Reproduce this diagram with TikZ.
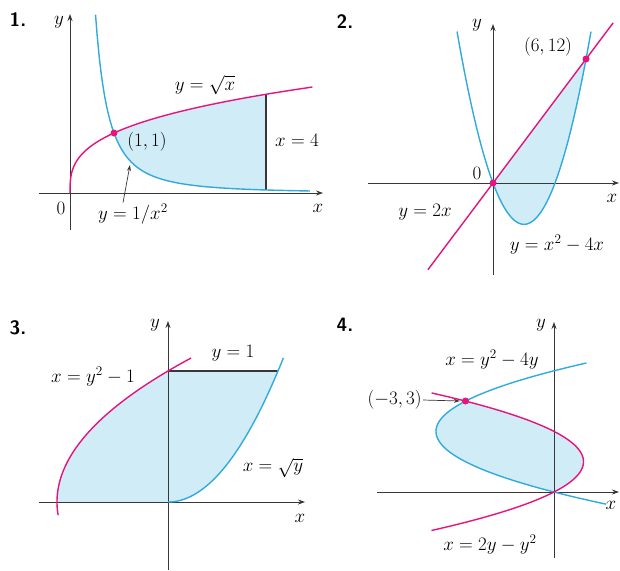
\documentclass[tikz,border=0pt]{standalone}
\usepackage{amsmath,amssymb}
\usetikzlibrary{arrows.meta}
\definecolor{curvepink}{RGB}{230,20,125}
\definecolor{curveblue}{RGB}{50,170,220}
\definecolor{regionblue}{RGB}{208,236,246}
\definecolor{axisgray}{RGB}{55,55,55}

\tikzset{
  axis/.style={draw=axisgray, line width=0.9pt, -{Stealth[length=7pt,width=5pt]}},
  pinkcurve/.style={draw=curvepink, line width=1.4pt},
  bluecurve/.style={draw=curveblue, line width=1.4pt},
  region/.style={fill=regionblue, draw=none},
  bound/.style={draw=axisgray, line width=1.1pt},
  dot/.style={circle, fill=curvepink, inner sep=0pt, minimum size=7pt},
  lbl/.style={font=\fontsize{17.28}{20}\selectfont, inner sep=1pt, scale=1.1, transform shape},
  num/.style={font=\fontsize{17.28}{20}\selectfont\sffamily\bfseries, inner sep=1pt, scale=1.12, transform shape},
  pointer/.style={draw=axisgray, line width=0.7pt, -{Stealth[length=6pt,width=4pt]}}
}

\begin{document}
\begin{tikzpicture}[x=1pt, y=-1pt]
  \useasboundingbox[fill=white] (0,0) rectangle (620,570);

  % 1. y = sqrt(x), y = 1/x^2, x = 4
  \fill[region] plot[domain=1:1.645, samples=40] ({70+44*\x^3},{193-60*\x})
    -- plot[domain=4.45:1, samples=60] ({70+44*\x},{193-60/(\x*\x)}) -- cycle;
  \draw[axis] (39,193) -- (323,193);
  \draw[axis] (70,230) -- (70,14);
  \draw[bound] (266,94) -- (266,190);
  \draw[bluecurve] plot[domain=0.58:5.45, samples=120] ({70+44*\x},{193-60/(\x*\x)});
  \draw[pinkcurve] plot[domain=0:1.767, samples=80] ({70+44*\x^3},{193-60*\x});
  \node[dot] (meet1) at (114,133) {};
  \node[num] (no1) at (18,20) {1.};
  \node[lbl] (yax1) at (59,22) {$y$};
  \node[lbl] (xax1) at (318,208) {$x$};
  \node[lbl] (zero1) at (61,208) {$0$};
  \node[lbl] (sqrtx) at (205,85) {$y=\sqrt{x}$};
  \node[lbl] (pt11) at (147,142) {$(1,1)$};
  \node[lbl] (xfour) at (297,140) {$x=4$};
  \node[lbl] (invsq) at (133,214) {$y=1/x^2$};
  \coordinate (onblue1) at (130,165);
  \draw[pointer] ([xshift=-10pt]invsq.north) -- (onblue1);

  % 2. y = 2x, y = x^2 - 4x
  \fill[region] plot[domain=0:6, samples=2] ({493+15.5*\x},{183-20.66*\x})
    -- plot[domain=6:0, samples=60] ({493+15.5*\x},{183-10.33*(\x*\x-4*\x)}) -- cycle;
  \draw[axis] (368,183) -- (619,183);
  \draw[axis] (493,275) -- (493,24);
  \draw[bluecurve] plot[domain=-2.32:6.32, samples=100] ({493+15.5*\x},{183-10.33*(\x*\x-4*\x)});
  \draw[pinkcurve] plot[domain=-4.2:7.75, samples=2] ({493+15.5*\x},{183-20.66*\x});
  \node[dot] (orig2) at (493,183) {};
  \node[dot] (meet2) at (586,59) {};
  \node[num] (no2) at (345,22) {2.};
  \node[lbl] (yax2) at (477,25) {$y$};
  \node[lbl] (xax2) at (612,198) {$x$};
  \node[lbl] (zero2) at (477,173) {$0$};
  \node[lbl] (pt612) at (548,47) {$(6,12)$};
  \node[lbl] (line2) at (425,212) {$y=2x$};
  \node[lbl] (para2) at (557,245) {$y=x^2-4x$};

  % 3. x = y^2 - 1, x = sqrt(y), y = 1
  \fill[region] plot[domain=0:1, samples=40] ({168+111*(\x*\x-1)},{502-131*\x})
    -- (278,371) -- plot[domain=1:0, samples=40] ({168+110*\x},{502-131*\x*\x}) -- cycle;
  \draw[axis] (39,502) -- (305,502);
  \draw[axis] (168,570) -- (168,321);
  \draw[bound] (168,371) -- (278,371);
  \draw[pinkcurve] plot[domain=-0.1:1.1, samples=60] ({168+111*(\x*\x-1)},{502-131*\x});
  \draw[bluecurve] plot[domain=0:1.049, samples=60] ({168+110*\x},{502-131*\x*\x});
  \node[num] (no3) at (18,328) {3.};
  \node[lbl] (yax3) at (155,325) {$y$};
  \node[lbl] (xax3) at (300,518) {$x$};
  \node[lbl] (yone) at (233,353) {$y=1$};
  \node[lbl] (para3) at (93,377) {$x=y^2-1$};
  \node[lbl] (sqrty) at (273,468) {$x=\sqrt{y}$};

  % 4. x = y^2 - 4y, x = 2y - y^2
  \fill[region] plot[domain=0:3, samples=50] ({554+29.5*(2*\x-\x*\x)},{492-30.3*\x})
    -- plot[domain=3:0, samples=50] ({554+29.5*(\x*\x-4*\x)},{492-30.3*\x}) -- cycle;
  \draw[axis] (377,492) -- (619,492);
  \draw[axis] (554,558) -- (554,322);
  \draw[bluecurve] plot[domain=-0.4:4.26, samples=100] ({554+29.5*(\x*\x-4*\x)},{492-30.3*\x});
  \draw[pinkcurve] plot[domain=-1.27:3.27, samples=100] ({554+29.5*(2*\x-\x*\x)},{492-30.3*\x});
  \node[dot] (meet4) at (465.5,401) {};
  \node[num] (no4) at (345,325) {4.};
  \node[lbl] (yax4) at (541,325) {$y$};
  \node[lbl] (xax4) at (611,505) {$x$};
  \node[lbl] (upper4) at (492,360) {$x=y^2-4y$};
  \node[lbl] (lower4) at (490,545) {$x=2y-y^2$};
  \node[lbl, anchor=east] (pt33) at (423,400) {$(-3,3)$};
  \draw[pointer] (pt33.east) -- ([xshift=-2pt]meet4.west);
\end{tikzpicture}
\end{document}
